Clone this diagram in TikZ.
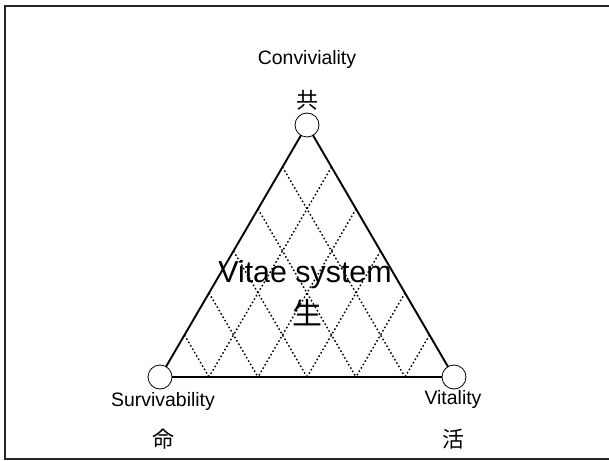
\documentclass[tikz,border=0pt]{standalone}
\usepackage{fontspec}
\setmainfont{Liberation Sans}
\newfontfamily\jpfont{Noto Sans CJK JP}
\usetikzlibrary{calc}
\begin{document}
\begin{tikzpicture}[x=1bp, y=-1bp,
  vertex/.style={circle, draw, fill=white, minimum size=24bp, inner sep=0pt, line width=0.8bp},
  side/.style={line width=1.9bp},
  diag/.style={dash pattern=on 1.6bp off 2.3bp, line width=1.4bp},
  eng/.style={font=\fontsize{19.5}{21}\selectfont},
  kanji/.style={font=\jpfont\fontsize{#1}{#1}\selectfont, inner sep=0pt}
]
\useasboundingbox (0,0) rectangle (609,461);
\draw[line width=2.2bp, black!85] (5,6) rectangle (620,459);

\coordinate (top) at (307,125);
\coordinate (bl) at (160,377);
\coordinate (br) at (454,377);

% dotted mesh
\foreach \k in {1,...,5} {
  \draw[diag] ($(bl)!\k/6!(top)$) -- ($(bl)!\k/6!(br)$);
  \draw[diag] ($(br)!\k/6!(top)$) -- ($(br)!\k/6!(bl)$);
}

\draw[side] (top) -- (bl) -- (br) -- cycle;
\node[vertex] (c) at (top) {};
\node[vertex] (s) at (bl) {};
\node[vertex] (v) at (br) {};

\node[eng] (conv) at (307,59) {Conviviality};
\node[kanji=22] (kyo) at (307,100) {共};
\node[eng] (surv) at (163,401) {Survivability};
\node[kanji=22] (mei) at (163,439) {命};
\node[eng] (vita) at (453,399) {Vitality};
\node[kanji=22] (katsu) at (453,439) {活};
\node[font=\fontsize{30.5}{32}\selectfont] (sys) at (305,275) {Vitae system};
\node[kanji=30] (sei) at (307,313) {生};
\end{tikzpicture}
\end{document}
